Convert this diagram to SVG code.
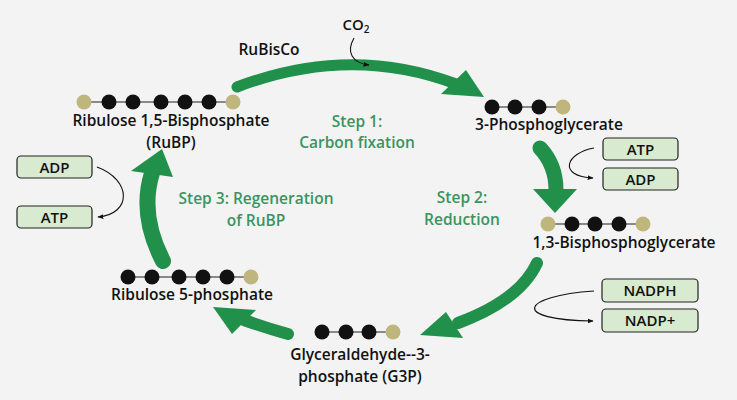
<svg xmlns="http://www.w3.org/2000/svg" width="737" height="400" viewBox="0 0 737 400">
<defs>
<style>
.t{font-family:"Open Sans","Noto Sans","Liberation Sans",sans-serif;font-weight:600;font-size:15.5px;fill:#111;text-anchor:middle}
.bt{font-family:"Open Sans","Noto Sans","Liberation Sans",sans-serif;font-weight:600;font-size:15px;fill:#111;text-anchor:middle}
.s{font-family:"Open Sans","Noto Sans","Liberation Sans",sans-serif;font-weight:600;font-size:15.5px;fill:#3a9460;text-anchor:middle}
.b{fill:#d8ebd0;stroke:#222;stroke-width:1.2}
.c{fill:#111}
.p{fill:#bfb67d}
.bond{stroke:#666;stroke-width:1.5}
.big{fill:none;stroke:#21904a;stroke-linecap:round}
.head{fill:#21904a}
.thin{fill:none;stroke:#111;stroke-width:1.1}
</style>
<marker id="ah" viewBox="0 0 10 10" refX="9" refY="5" markerWidth="6" markerHeight="6" orient="auto-start-reverse" markerUnits="userSpaceOnUse"><path d="M0,1 L10,5 L0,9 Z" fill="#111"/></marker>
</defs>
<rect width="737" height="400" fill="#f3f3f3"/>

<g id="connectors">
<path class="big" stroke-width="11" d="M237 87 Q350 44 456 84"/>
<polygon class="head" points="466,70 484,97 441,94"/>
<path class="big" stroke-width="15" d="M540 148 Q556 165 556 190"/>
<polygon class="head" points="533,189 577,189 555,213"/>
<path class="big" stroke-width="12" d="M537 263 Q520 300 458 323"/>
<polygon class="head" points="446,312 463,338 420,335"/>
<path class="big" stroke-width="12" d="M288 334 Q266 328 244 320"/>
<polygon class="head" points="213,307 256,310 232,334"/>
<path class="big" stroke-width="16" d="M163 261 Q139 215 152 173"/>
<polygon class="head" points="162,149 131,171 173,177"/>
<path class="thin" marker-end="url(#ah)" d="M354 38 C346 52 352 63 369 65"/>
<path class="thin" marker-end="url(#ah)" d="M594 148 C566 153 557 176 593 178"/>
<path class="thin" marker-end="url(#ah)" d="M594 291 C520 296 510 320 593 321"/>
<path class="thin" marker-end="url(#ah)" d="M97 167 C132 180 132 214 98 217"/>
</g>

<g id="rubp">
<line class="bond" x1="84" y1="102" x2="233" y2="102"/>
<circle class="p" cx="84" cy="102" r="7.5"/><circle class="c" cx="109" cy="102" r="7.5"/><circle class="c" cx="133" cy="102" r="7.5"/><circle class="c" cx="161" cy="102" r="7.5"/><circle class="c" cx="185" cy="102" r="7.5"/><circle class="c" cx="209" cy="102" r="7.5"/><circle class="p" cx="233" cy="102" r="7.5"/>
<text class="t" x="171" y="126">Ribulose 1,5-Bisphosphate</text>
<text class="t" x="171" y="148">(RuBP)</text>
</g>

<g id="rubisco"><text class="t" x="269" y="55">RuBisCo</text></g>
<g id="co2"><text class="bt" x="356" y="30">CO<tspan font-size="10" dy="3">2</tspan></text></g>

<g id="step1"><text class="s" x="357" y="126.5">Step 1:</text><text class="s" x="357" y="148">Carbon fixation</text></g>

<g id="pga">
<line class="bond" x1="492" y1="107" x2="563" y2="107"/>
<circle class="c" cx="492" cy="107" r="7.5"/><circle class="c" cx="515" cy="107" r="7.5"/><circle class="c" cx="539" cy="107" r="7.5"/><circle class="p" cx="563" cy="107" r="7.5"/>
<text class="t" x="549" y="130">3-Phosphoglycerate</text>
</g>

<g id="atp-r"><rect class="b" x="603" y="138" width="75" height="22" rx="4"/><text class="bt" x="640.5" y="155">ATP</text></g>
<g id="adp-r"><rect class="b" x="603" y="168" width="75" height="22" rx="4"/><text class="bt" x="640.5" y="184.5">ADP</text></g>

<g id="step2"><text class="s" x="462" y="203">Step 2:</text><text class="s" x="462" y="224.5">Reduction</text></g>

<g id="bpg">
<line class="bond" x1="548" y1="224" x2="643" y2="224"/>
<circle class="p" cx="548" cy="224" r="7.5"/><circle class="c" cx="572" cy="224" r="7.5"/><circle class="c" cx="595" cy="224" r="7.5"/><circle class="c" cx="619" cy="224" r="7.5"/><circle class="p" cx="643" cy="224" r="7.5"/>
<text class="t" x="624" y="248">1,3-Bisphosphoglycerate</text>
</g>

<g id="nadph"><rect class="b" x="602" y="279" width="96" height="23" rx="4"/><text class="bt" x="650" y="296">NADPH</text></g>
<g id="nadp"><rect class="b" x="602" y="309" width="96" height="23" rx="4"/><text class="bt" x="650" y="326">NADP+</text></g>

<g id="g3p">
<line class="bond" x1="322" y1="332" x2="393" y2="332"/>
<circle class="c" cx="322" cy="332" r="7.5"/><circle class="c" cx="346" cy="332" r="7.5"/><circle class="c" cx="369" cy="332" r="7.5"/><circle class="p" cx="393" cy="332" r="7.5"/>
<text class="t" x="360" y="360">Glyceraldehyde--3-</text>
<text class="t" x="360" y="381.5">phosphate (G3P)</text>
</g>

<g id="ru5p">
<line class="bond" x1="128" y1="277" x2="251" y2="277"/>
<circle class="c" cx="128" cy="277" r="7.5"/><circle class="c" cx="152" cy="277" r="7.5"/><circle class="c" cx="179" cy="277" r="7.5"/><circle class="c" cx="203" cy="277" r="7.5"/><circle class="c" cx="227" cy="277" r="7.5"/><circle class="p" cx="251" cy="277" r="7.5"/>
<text class="t" x="192" y="300">Ribulose 5-phosphate</text>
</g>

<g id="step3"><text class="s" x="256" y="204">Step 3: Regeneration</text><text class="s" x="256" y="225.5">of RuBP</text></g>

<g id="adp-l"><rect class="b" x="17" y="156" width="75" height="22" rx="4"/><text class="bt" x="54.5" y="172.5">ADP</text></g>
<g id="atp-l"><rect class="b" x="17" y="206" width="75" height="22" rx="4"/><text class="bt" x="54.5" y="222.5">ATP</text></g>
</svg>
